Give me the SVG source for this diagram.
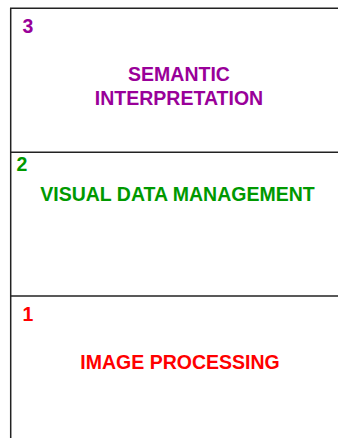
<svg xmlns="http://www.w3.org/2000/svg" width="338" height="438" viewBox="0 0 338 438">
<style>
.ln{stroke:#222;stroke-width:1.5;fill:none}
text{font-family:"Liberation Sans",Arial,sans-serif;font-weight:bold;font-size:19.5px}
.p{fill:#990099}.g{fill:#009900}.r{fill:#ff0000}
.m{text-anchor:middle}
</style>
<rect width="338" height="438" fill="#fff"/>
<g id="connectors">
<path class="ln" d="M10.7,438 V8.3 H338"/>
<path class="ln" d="M10.7,152.3 H338"/>
<path class="ln" d="M10.7,296 H338"/>
</g>
<g id="layer3">
<text class="p" x="22.5" y="33.3">3</text>
<text class="p m" x="179" y="81">SEMANTIC</text>
<text class="p m" x="179" y="105">INTERPRETATION</text>
</g>
<g id="layer2">
<text class="g" x="16.5" y="171">2</text>
<text class="g m" x="177.5" y="201">VISUAL DATA MANAGEMENT</text>
</g>
<g id="layer1">
<text class="r" x="22.5" y="321">1</text>
<text class="r m" x="180" y="369">IMAGE PROCESSING</text>
</g>
</svg>
